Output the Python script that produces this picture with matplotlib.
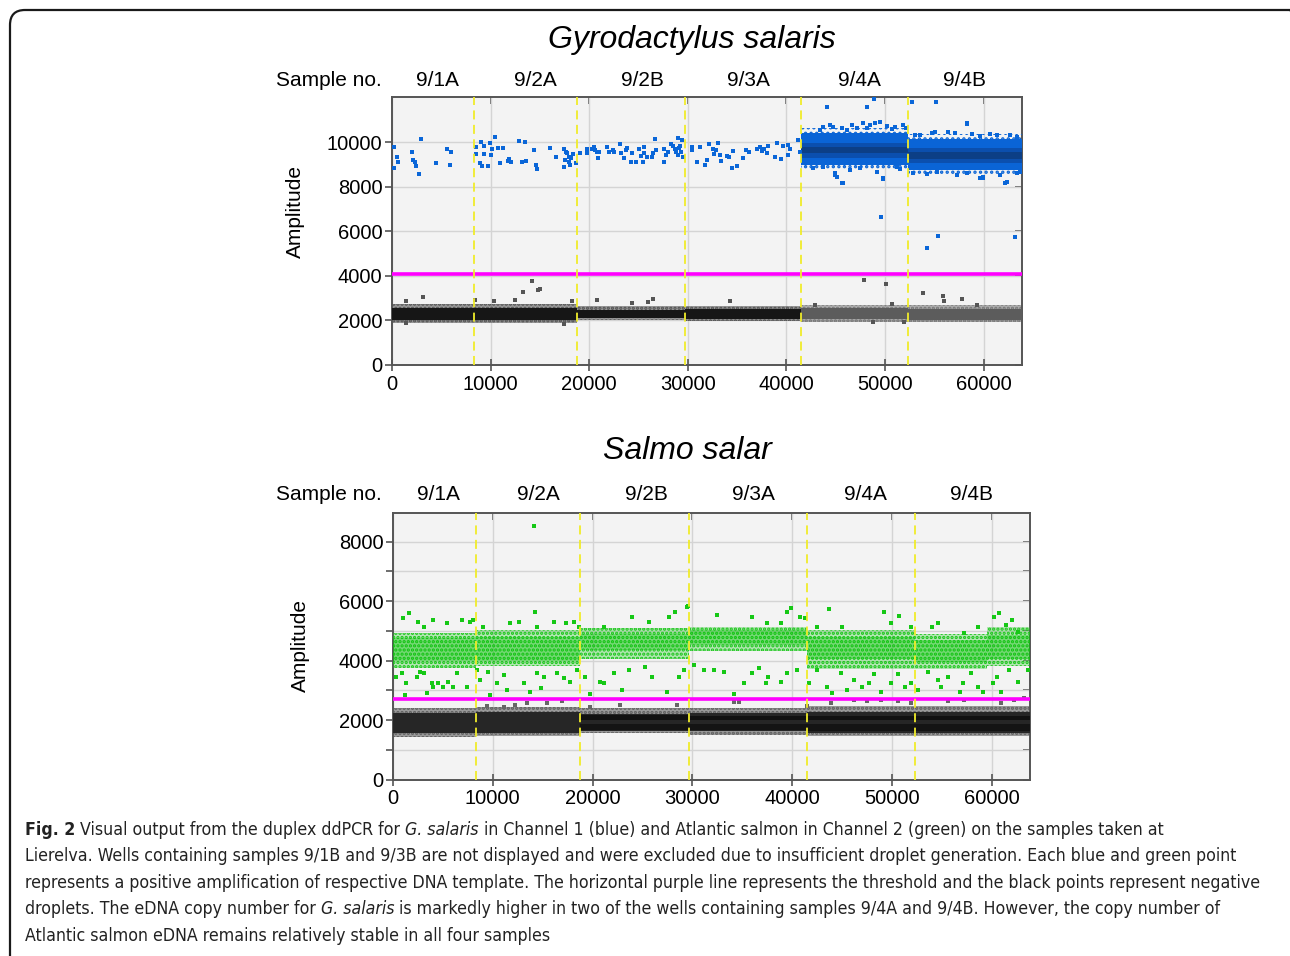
import matplotlib
matplotlib.use("Agg")
import matplotlib.pyplot as plt
from matplotlib.patches import FancyBboxPatch
from matplotlib.transforms import blended_transform_factory, IdentityTransform
from matplotlib import font_manager

# ---------------- data ----------------
samples = ["9/1A", "9/2A", "9/2B", "9/3A", "9/4A", "9/4B"]
sample_label_x = [4600, 14550, 25400, 36150, 47350, 58000]
well_bounds = [8290, 18750, 29660, 41500, 52370]
seg_edges = [0, 8290, 18750, 29660, 41500, 52370, 63850]
x_max = 63850
x_ticks = [0, 10000, 20000, 30000, 40000, 50000, 60000]

# Channel 1 (G. salaris)
ch1_threshold = 4100
ch1_yticks = [0, 2000, 4000, 6000, 8000, 10000]
ch1_ymax = 12030
ch1_neg_outer_lo = [1880, 1900, 2010, 1990, 1950, 1930]
ch1_neg_outer_hi = [2740, 2760, 2640, 2660, 2700, 2680]
ch1_neg_core_lo = [2030, 2040, 2100, 2080, 2050, 2040]
ch1_neg_core_hi = [2560, 2580, 2480, 2500, 2550, 2520]
ch1_neg_out_x = [1420, 3110, 8416, 10377, 12472, 13249, 14162, 14771, 15007, 18218, 20753, 24369, 25923,
                 26432, 17474, 1420, 34273, 47861, 50092, 50700, 53810, 55905, 55973, 57764, 59352, 48740,
                 51950, 42892]
ch1_neg_out_y = [2876, 3041, 2921, 2876, 2921, 3281, 3790, 3371, 3401, 2861, 2921, 2801, 2831,
                 2951, 1827, 1872, 2891, 3820, 3625, 2726, 3236, 3101, 2876, 2951, 2696, 1917,
                 1917, 2696]
ch1_pos_x = [203, 203, 541, 642, 1994, 2163, 2332, 2434, 2738, 2974, 4428, 5610, 5948, 5881,
             8484, 8484, 8923, 9025, 9160, 9329, 9363, 9768, 9937, 10005, 10174, 10410, 10748, 10951,
             11221, 11728, 11864, 12100, 12844, 13215, 13452, 13588, 14399, 14602, 14737, 16021, 16630,
             17406, 17474, 17541, 17609, 17778, 17948, 18049, 18151, 18319, 17914, 18658,
             19063, 19739, 19739, 20314, 20483, 20584, 20753, 20922, 21024, 21835, 21970, 22376, 22545,
             23119, 23254, 23558, 23693, 23862, 24200, 24369, 24707, 25078, 25213, 25416, 25553, 25586,
             25822, 26329, 26432, 26668, 26770, 27581, 27581, 27784, 28020, 28291, 28460, 28696, 28798,
             28967, 28967, 29102, 29203, 29305, 29372, 29473,
             30386, 30386, 30893, 31231, 31738, 31974, 32144, 32584, 32651, 32854, 33090, 33259, 33327,
             34000, 34203, 34442, 34608, 34948, 35625, 35896, 36234, 36980, 37315, 37485, 37721, 37993,
             38159, 38836, 39072, 39413, 39617, 40187, 40187, 40357, 41202, 41371,
             44078, 48134, 48909, 52696, 55126, 58270, 45763, 44920, 45090, 49820, 49585, 54215, 55396,
             63172, 62158, 59960,
             43736, 44413, 44751, 45600, 46613, 47120, 47792, 48469, 48976, 49483, 50159, 51004, 51849,
             52120, 43399, 46106, 48131, 50665, 42723, 44920, 45600, 46441, 49145, 49821, 51173, 51511,
             47455, 43736,
             53032, 53539, 54723, 55060, 56411, 57088, 58270, 58777, 59623, 60637, 61313, 62665, 63342,
             52863, 54215, 55228, 57257, 58270, 59623, 59960, 61651, 62327, 63342, 63679]
ch1_pos_y = [9783, 8839, 9333, 9138, 9572, 9213, 9138, 8943, 8569, 10141, 9063, 9722, 9572, 8973,
             9812, 9467, 9093, 10036, 8943, 9842, 9467, 8943, 9962, 9422, 9692, 10261, 9737, 9093,
             9737, 9183, 9243, 9138, 10081, 9138, 10036, 9168, 9647, 9003, 8823, 9737, 9363,
             9692, 8883, 9213, 9587, 9512, 9138, 8988, 9288, 9467, 9363, 9063,
             9542, 9692, 9542, 9692, 9812, 9662, 9572, 9288, 9587, 9812, 9587, 9662, 9587,
             9932, 9542, 9288, 9662, 9737, 9138, 9542, 9138, 9692, 9392, 9138, 9782, 9542,
             9363, 9363, 9512, 10141, 9662, 9692, 9138, 9437, 9587, 9932, 9857, 9692, 9572,
             10216, 9437, 9737, 9842, 9587, 10112, 9363,
             9812, 9662, 9138, 9812, 8988, 9213, 9932, 9692, 9482, 9662, 9962, 9437, 9183,
             9392, 9363, 8838, 9617, 8943, 9288, 9662, 9587, 9692, 9782, 9632, 9692, 9542,
             9842, 9363, 9992, 9258, 9842, 9887, 9437, 9692, 10112, 9587,
             11580, 11610, 11950, 11805, 11805, 10860, 8164, 8539, 8434, 8344, 6666, 5273, 5797,
             5762, 8164, 8389,
             10680, 10786, 10711, 10636, 10786, 10636, 10861, 10786, 10861, 10936, 10741, 10711, 10786,
             10636, 10561, 10561, 10636, 10591, 8838, 8613, 8164, 8763, 8688, 8389, 8883, 8793,
             8838, 8913,
             10336, 10336, 10411, 10486, 10486, 10411, 10831, 10381, 10291, 10381, 10336, 10336, 10261,
             8613, 8584, 8688, 8539, 8613, 8389, 8464, 8539, 8239, 8613, 8688]
# dense positive clouds in wells 9/4A and 9/4B
ch1_dense_edges = [41500, 52370, 63850]
ch1_dense_fringe_lo = [8800, 8560]
ch1_dense_fringe_hi = [10650, 10380]
ch1_dense_outer_lo = [8990, 8760]
ch1_dense_outer_hi = [10420, 10160]
ch1_dense_core_lo = [9300, 9070]
ch1_dense_core_hi = [9980, 9740]
ch1_dense_inner_lo = [9520, 9260]
ch1_dense_inner_hi = [9800, 9560]

# Channel 2 (Salmo salar)
ch2_threshold = 2720
ch2_yticks = [0, 1000, 2000, 3000, 4000, 5000, 6000, 7000, 8000]
ch2_yticklabels = ["0", "", "2000", "", "4000", "", "6000", "", "8000"]
ch2_ymax = 8970
ch2_neg_outer_lo = [1440, 1470, 1560, 1490, 1460, 1450]
ch2_neg_outer_hi = [2390, 2440, 2400, 2400, 2480, 2460]
ch2_neg_core_lo = [1560, 1580, 1640, 1620, 1580, 1570]
ch2_neg_core_hi = [2230, 2260, 2200, 2230, 2280, 2260]
ch2_streak_edges = [18750, 29660, 41500, 52370, 63850]
ch2_streak_a_lo = [1990, 1990, 2000, 1990]
ch2_streak_a_hi = [2160, 2130, 2150, 2150]
ch2_streak_b_lo = [1660, 1650, 1640, 1640]
ch2_streak_b_hi = [1880, 1860, 1860, 1860]
ch2_neg_out_x = [9405, 11077, 12249, 13420, 15429, 16934, 19779, 22791, 28481, 34168, 34670, 41534,
                 43875, 46216, 47557, 48895, 50571, 51907, 55591, 57262, 60943, 62281, 63284]
ch2_neg_out_y = [2470, 2448, 2504, 2560, 2582, 2650, 2426, 2504, 2504, 2616, 2616, 2470,
                 2560, 2672, 2650, 2672, 2650, 2582, 2650, 2672, 2560, 2672, 2728]
ch2_pos_edges = [0, 8290, 18750, 29660, 41500, 52370, 59500, 63850]
ch2_pos_outer_lo = [3750, 3820, 4060, 4330, 3700, 3700, 3800]
ch2_pos_outer_hi = [4920, 5020, 5080, 5130, 5020, 4900, 5130]
ch2_pos_core_lo = [3980, 4000, 4350, 4520, 4040, 3940, 4050]
ch2_pos_core_hi = [4750, 4800, 4900, 5020, 4800, 4690, 4850]
ch2_pos_x = [1037, 1640, 2543, 3112, 4049, 5388, 6894, 7731, 8066, 9070, 11747, 12584, 14090, 14257,
             14425, 16098, 17369, 18106, 18608, 21115, 23960, 25634, 27642, 28313, 29485,
             301, 870, 1305, 1205, 2376, 2711, 3112, 3380, 3882, 4049, 4551, 5053, 5555, 5990, 6392,
             7396, 8400, 8735, 9572, 9739, 10408, 11077, 11412, 13085, 13688, 14425, 14826, 15094,
             16432, 17101, 17771, 18440, 19277, 19779, 20783, 21115, 22120, 22960, 23627, 25301,
             25969, 27478, 28648, 29149,
             29550, 32497, 36010, 37516, 38855, 39457, 39925, 40796, 41264, 42469, 43706, 45045,
             49229, 49899, 50736, 51907, 53983, 54585, 57262, 58667, 60206, 60775, 61445, 62047, 62616,
             30152, 31158, 32161, 33166, 34168, 35172, 36010, 36680, 37349, 37583, 38855, 39457,
             40528, 41699, 42536, 43540, 44042, 44879, 45548, 46216, 47057, 47724, 48226, 48895,
             49899, 50571, 51304, 51907, 52640, 53644, 54585, 54919, 55591, 56857, 57094, 57931,
             58603, 59105, 60108, 60541, 60943, 61777, 62616, 63620]
ch2_pos_y = [5417, 5585, 5305, 5136, 5361, 5271, 5361, 5305, 5361, 5136, 5271, 5305, 8531, 5641,
             5136, 5305, 5249, 5305, 5136, 5136, 5473, 5305, 5473, 5641, 5809,
             3456, 3568, 3232, 2840, 3456, 3624, 3568, 2896, 3232, 3120, 3232, 3120, 3288, 3120, 3568,
             3120, 3680, 3344, 3624, 2840, 3232, 3512, 3008, 3232, 2952, 3568, 3064, 3456,
             3568, 3400, 3288, 3680, 3456, 2874, 3288, 3232, 3568, 3008, 3680, 3792,
             3456, 2952, 3456, 3680,
             5831, 5529, 5473, 5271, 5249, 5641, 5753, 5473, 5417, 5136, 5719, 5136,
             5641, 5249, 5495, 5136, 5136, 5249, 4913, 5136, 5473, 5607, 5193, 5361, 4969,
             3848, 3680, 3680, 3624, 2874, 3232, 3568, 3736, 3232, 3456, 3288, 3568,
             3680, 3232, 3680, 3120, 2918, 3568, 3008, 3344, 3120, 3232, 3546, 2952,
             3232, 3546, 3120, 3232, 3008, 3624, 3344, 3120, 3456, 2952, 3232, 3568,
             3120, 2952, 3232, 3456, 2952, 3680, 3288, 3680]

caption_lines = [
    [("Fig. 2", "bold"), (" Visual output from the duplex ddPCR for ", "normal"), ("G. salaris", "italic"),
     (" in Channel 1 (blue) and Atlantic salmon in Channel 2 (green) on the samples taken at", "normal")],
    [("Lierelva. Wells containing samples 9/1B and 9/3B are not displayed and were excluded due to "
      "insufficient droplet generation. Each blue and green point", "normal")],
    [("represents a positive amplification of respective DNA template. The horizontal purple line "
      "represents the threshold and the black points represent negative", "normal")],
    [("droplets. The eDNA copy number for ", "normal"), ("G. salaris", "italic"),
     (" is markedly higher in two of the wells containing samples 9/4A and 9/4B. However, the copy number of",
      "normal")],
    [("Atlantic salmon eDNA remains relatively stable in all four samples", "normal")],
]

# ---------------- drawing ----------------
plt.rcParams["font.family"] = ["Liberation Sans", "DejaVu Sans"]
plt.rcParams["hatch.linewidth"] = 1.6
W, H = 1290, 956
fig = plt.figure(figsize=(W / 100, H / 100), dpi=100)
renderer = fig.canvas.get_renderer()

frame = FancyBboxPatch((10, -40), 1295, 956 - 10 + 40, boxstyle="round,pad=0,rounding_size=15",
                       transform=IdentityTransform(), facecolor="none", edgecolor="#1a1a1a", linewidth=1.6)
fig.add_artist(frame)

FACE = "#f3f3f3"
GRID = "#d4d4d4"
SPINE = "#555555"
YEL = "#f0ec2a"


def band(ax, edges, lo, hi, color, alpha=1.0, z=2, hatch=None):
    if hatch:
        ax.fill_between(edges, list(lo) + [lo[-1]], list(hi) + [hi[-1]], step="post",
                        facecolor="none", edgecolor=color, hatch=hatch, linewidth=0, zorder=z)
    else:
        ax.fill_between(edges, list(lo) + [lo[-1]], list(hi) + [hi[-1]], step="post",
                        color=color, alpha=alpha, linewidth=0, zorder=z)


def setup(ax, ymax, yticks, ylabels):
    ax.set_facecolor(FACE)
    ax.set_xlim(0, x_max)
    ax.set_ylim(0, ymax)
    ax.set_xticks(x_ticks)
    ax.set_xticklabels([str(t) for t in x_ticks])
    ax.set_yticks(yticks)
    ax.set_yticklabels(ylabels)
    ax.grid(True, color=GRID, linewidth=1.0, zorder=0)
    ax.set_axisbelow(True)
    for s in ax.spines.values():
        s.set_color(SPINE)
        s.set_linewidth(1.4)
    ax.tick_params(axis="x", direction="inout", length=8, width=1.2, color=SPINE, labelsize=14.5, pad=3)
    ax.tick_params(axis="y", direction="out", length=5, width=1.2, color=SPINE, labelsize=14.5, pad=2)
    sy = ax.secondary_yaxis("right")
    sy.set_yticks(yticks)
    sy.set_yticklabels([])
    sy.tick_params(direction="in", length=5, width=1.2, color=SPINE)
    sy.spines["right"].set_visible(False)
    sx = ax.secondary_xaxis("top")
    sx.set_xticks(x_ticks)
    sx.set_xticklabels([])
    sx.tick_params(direction="in", length=5, width=1.2, color=SPINE)
    sx.spines["top"].set_visible(False)
    for b in well_bounds:
        ax.axvline(b, color=YEL, linewidth=1.3, linestyle=(0, (5, 3)), zorder=6)


def headers(ax, yax):
    tr = blended_transform_factory(ax.transData, ax.transAxes)
    ax.text(-6450, yax, "Sample no.", transform=tr, ha="center", va="center", fontsize=15)
    for lx, lab in zip(sample_label_x, samples):
        ax.text(lx, yax, lab, transform=tr, ha="center", va="center", fontsize=15)


# ---- top panel ----
ax1 = fig.add_axes([392 / W, 1 - 365 / H, (1021.7 - 392) / W, (365 - 97.3) / H])
setup(ax1, ch1_ymax, ch1_yticks, [str(t) for t in ch1_yticks])
band(ax1, seg_edges[:5], ch1_neg_outer_lo[:4], ch1_neg_outer_hi[:4], "#5a5a5a", hatch="....")
band(ax1, seg_edges[:5], ch1_neg_outer_lo[:4], ch1_neg_outer_hi[:4], "#4a4a4a", alpha=0.55)
band(ax1, seg_edges[:5], ch1_neg_core_lo[:4], ch1_neg_core_hi[:4], "#161616", z=3)
band(ax1, seg_edges[4:], ch1_neg_outer_lo[4:], ch1_neg_outer_hi[4:], "#6a6a6a", hatch="....")
band(ax1, seg_edges[4:], ch1_neg_outer_lo[4:], ch1_neg_outer_hi[4:], "#7c7c7c", alpha=0.6)
band(ax1, seg_edges[4:], ch1_neg_core_lo[4:], ch1_neg_core_hi[4:], "#5c5c5c", z=3)
ax1.scatter(ch1_neg_out_x, ch1_neg_out_y, s=6, marker="s", color="#555555", linewidths=0, zorder=4)
band(ax1, ch1_dense_edges, ch1_dense_fringe_lo, ch1_dense_fringe_hi, "#0a64d6", z=3, hatch="...")
band(ax1, ch1_dense_edges, ch1_dense_outer_lo, ch1_dense_outer_hi, "#0a64d6", z=3)
band(ax1, ch1_dense_edges, ch1_dense_core_lo, ch1_dense_core_hi, "#0b4fae", z=3)
band(ax1, ch1_dense_edges, ch1_dense_inner_lo, ch1_dense_inner_hi, "#0c3f86", z=3)
ax1.scatter(ch1_pos_x, ch1_pos_y, s=7, marker="s", color="#0a66d8", linewidths=0, zorder=4)
ax1.axhline(ch1_threshold, color="#ff00ff", linewidth=2.6, zorder=5)
headers(ax1, 1.061)
fig.text(692 / W, 1 - 40 / H, "Gyrodactylus salaris", ha="center", va="center", fontsize=23, style="italic")
fig.text(295 / W, 1 - 212 / H, "Amplitude", rotation=90, ha="center", va="center", fontsize=15)

# ---- bottom panel ----
ax2 = fig.add_axes([393 / W, 1 - 779.5 / H, (1030 - 393) / W, (779.5 - 512.7) / H])
setup(ax2, ch2_ymax, ch2_yticks, ch2_yticklabels)
band(ax2, seg_edges, ch2_neg_outer_lo, ch2_neg_outer_hi, "#5e5e5e", hatch="....")
band(ax2, seg_edges, ch2_neg_outer_lo, ch2_neg_outer_hi, "#5e5e5e", alpha=0.6)
band(ax2, seg_edges, ch2_neg_core_lo, ch2_neg_core_hi, "#262626", z=3)
band(ax2, ch2_streak_edges, ch2_streak_a_lo, ch2_streak_a_hi, "#111111", z=3)
band(ax2, ch2_streak_edges, ch2_streak_b_lo, ch2_streak_b_hi, "#141414", z=3)
ax2.scatter(ch2_neg_out_x, ch2_neg_out_y, s=6, marker="s", color="#666666", linewidths=0, zorder=4)
band(ax2, ch2_pos_edges, ch2_pos_outer_lo, ch2_pos_outer_hi, "#12c412", z=3, hatch="....")
band(ax2, ch2_pos_edges, ch2_pos_outer_lo, ch2_pos_outer_hi, "#1ec81e", alpha=0.3, z=3)
band(ax2, ch2_pos_edges, ch2_pos_core_lo, ch2_pos_core_hi, "#00c000", alpha=0.35, z=3)
ax2.scatter(ch2_pos_x, ch2_pos_y, s=7, marker="s", color="#16c816", linewidths=0, zorder=4)
ax2.axhline(ch2_threshold, color="#ff00ff", linewidth=2.6, zorder=5)
headers(ax2, 1.070)
fig.text(687 / W, 1 - 451 / H, "Salmo salar", ha="center", va="center", fontsize=23, style="italic")
fig.text(300 / W, 1 - 645 / H, "Amplitude", rotation=90, ha="center", va="center", fontsize=15)

# ---- caption ----
cap_family, cap_stretch = "DejaVu Sans", "normal"
cands = [("Liberation Sans Narrow", None), ("DejaVu Sans", "condensed"), ("Open Sans", "condensed"),
         ("Noto Sans", "condensed"), ("Roboto", "condensed")]
entries = font_manager.fontManager.ttflist
for fam, st in cands:
    found = [e for e in entries if e.name == fam and (st is None or "condensed" in str(e.stretch))]
    if found:
        cap_family = fam
        cap_stretch = found[0].stretch if st else "normal"
        break


def tw(s, fs, weight, style):
    t = fig.text(0, 0, s, fontsize=fs, family=cap_family, stretch=cap_stretch, weight=weight, style=style)
    w = t.get_window_extent(renderer).width
    t.remove()
    return w


def seg_w(s, fs, weight, style):
    return tw("|" + s + "|", fs, weight, style) - tw("||", fs, weight, style)


def piece_style(kind):
    if kind == "bold":
        return "bold", "normal"
    if kind == "italic":
        return "normal", "italic"
    return "normal", "normal"


base = 14.0
w3 = seg_w(caption_lines[2][0][0], base, "normal", "normal")
cap_fs = base * (1273 - 25) / w3
line_y = [830, 856, 883, 909, 936]
for pieces, yy in zip(caption_lines, line_y):
    x = 25.0
    for txt, kind in pieces:
        wgt, sty = piece_style(kind)
        fig.text(x / W, 1 - yy / H, txt, fontsize=cap_fs, family=cap_family, stretch=cap_stretch,
                 weight=wgt, style=sty, ha="left", va="center", color="#222222")
        x += seg_w(txt, cap_fs, wgt, sty)

fig.savefig("out.png", dpi=100)
